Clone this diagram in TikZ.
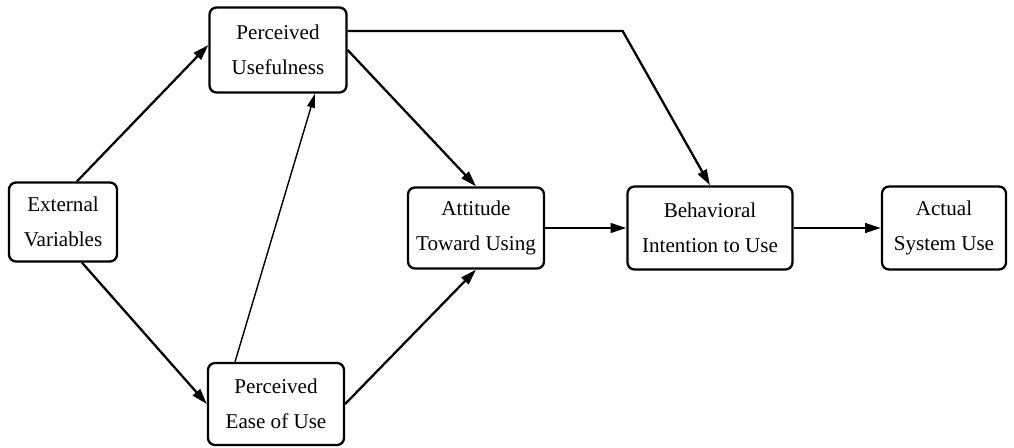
\documentclass[tikz,border=0pt]{standalone}
\usepackage{fontspec}
\setmainfont{Liberation Serif}
\usetikzlibrary{arrows.meta}
\begin{document}
\begin{tikzpicture}[x=0.02cm, y=-0.02cm,
    box/.style = {draw, line width=1.3pt, rounded corners=4pt, align=center,
      font=\fontsize{12}{20}\selectfont, inner sep=0pt},
    link/.style = {line width=1.3pt, -{Triangle[length=9pt, width=5.5pt]}},
    thin link/.style = {line width=0.8pt, -{Triangle[length=8pt, width=4.5pt]}}]
        \useasboundingbox (0,0) rectangle (1014,447);
        \node[box, minimum width=108*0.02cm, minimum height=79*0.02cm] (ev) at (63,222) {External\\Variables};
        \node[box, minimum width=137*0.02cm, minimum height=85*0.02cm] (pu) at (278,50) {Perceived\\Usefulness};
        \node[box, minimum width=136*0.02cm, minimum height=82*0.02cm] (peou) at (276,404) {Perceived\\Ease of Use};
        \node[box, minimum width=136*0.02cm, minimum height=81*0.02cm] (att) at (476,228) {Attitude\\Toward Using};
        \node[box, minimum width=165*0.02cm, minimum height=83*0.02cm] (bi) at (710,228) {Behavioral\\Intention to Use};
        \node[box, minimum width=124*0.02cm, minimum height=83*0.02cm] (asu) at (944,228) {Actual\\System Use};
        \draw[link] ([xshift=0.28cm]ev.north) -- ([yshift=0.1cm]pu.west);
        \draw[link] ([xshift=0.38cm]ev.south) -- (peou.west);
        \draw[thin link] ([xshift=-0.82cm]peou.north) -- ([xshift=0.74cm]pu.south);
        \draw[link] (pu.east) -- (att.north);
        \draw[link] ([yshift=0.38cm]pu.east) -- ++(275,0) -- (bi.north);
        \draw[link] (peou.east) -- (att.south);
        \draw[link] (att.east) -- (bi.west);
        \draw[link] (bi.east) -- (asu.west);
\end{tikzpicture}
\end{document}
